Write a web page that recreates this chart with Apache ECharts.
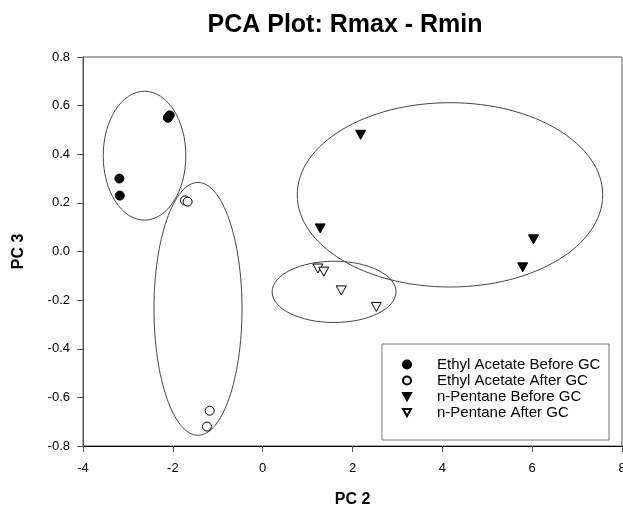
<!DOCTYPE html>
<html><head><meta charset="utf-8">
<script src="https://cdn.jsdelivr.net/npm/echarts@6/dist/echarts.min.js"></script>
<style>html,body{margin:0;padding:0;background:#fff}#c{width:623px;height:510px}</style>
</head><body><div id="c"></div>
<script>
var xTicks = [-4, -2, 0, 2, 4, 6, 8];
var yTicks = [-0.8, -0.6, -0.4, -0.2, 0.0, 0.2, 0.4, 0.6, 0.8];
var seriesNames = ['Ethyl Acetate Before GC', 'Ethyl Acetate After GC', 'n-Pentane Before GC', 'n-Pentane After GC'];
var ethylBefore = [[-2.11, 0.55], [-2.07, 0.56], [-3.19, 0.30], [-3.18, 0.23]];
var ethylAfter = [[-1.73, 0.21], [-1.67, 0.205], [-1.18, -0.655], [-1.24, -0.72]];
var pentaneBefore = [[2.18, 0.48], [1.28, 0.095], [6.03, 0.05], [5.79, -0.065]];
var pentaneAfter = [[1.23, -0.07], [1.36, -0.083], [1.75, -0.16], [2.53, -0.228]];
// ellipses: [centerX, centerY, radiusX, radiusY] in data units
var ellipses = [[-2.63, 0.394, 0.92, 0.265], [-1.44, -0.236, 0.98, 0.52], [4.17, 0.233, 3.40, 0.379], [1.59, -0.166, 1.38, 0.126]];

var font = 'Liberation Sans, Arial, sans-serif';
var downTri = 'path://M0,0L10,0L5,9Z';
var chart = echarts.init(document.getElementById('c'), null, {renderer: 'canvas'});
function sc(name, data, filled, sym) {
  return {
    name: name, type: 'scatter', data: data, symbol: sym === 'triangle' ? downTri : 'circle',
    symbolKeepAspect: true,
    symbolSize: sym === 'triangle' ? 10 : 9,
    itemStyle: {color: filled ? '#000' : '#fff', borderColor: '#000', borderWidth: 1, opacity: 1},
    emphasis: {disabled: true}, z: 5
  };
}
chart.setOption({
  animation: false,
  title: {text: 'PCA Plot: Rmax - Rmin', left: 340, textAlign: 'center', top: 8,
    textStyle: {fontFamily: font, fontSize: 25, fontWeight: 'bold', color: '#000'}},
  grid: {left: 83, right: 1, top: 57, bottom: 64, show: true, borderColor: '#555', borderWidth: 1,
    backgroundColor: 'transparent', outerBoundsMode: 'none', containLabel: false},
  legend: {
    data: seriesNames.map(function (n, i) { return {name: n, icon: i < 2 ? 'circle' : downTri}; }),
    orient: 'vertical', left: 382, top: 344,
    padding: [13, 8, 20, 20], itemGap: 1, itemWidth: 8, itemHeight: 8,
    borderColor: '#777', borderWidth: 1, backgroundColor: '#fff',
    textStyle: {fontFamily: font, fontSize: 15, color: '#000', padding: [0, 0, 0, 21], width: 164, lineHeight: 14},
    selectedMode: false, z: 10
  },
  xAxis: {
    type: 'value', min: -4, max: 8, interval: 2,
    name: 'PC 2', nameLocation: 'middle', nameGap: 46,
    nameTextStyle: {fontFamily: font, fontSize: 16, fontWeight: 'bold', color: '#000'},
    axisLine: {show: true, onZero: false, lineStyle: {color: '#000'}},
    axisTick: {show: true, inside: false, length: 6, lineStyle: {color: '#555'}},
    axisLabel: {fontFamily: font, fontSize: 13, color: '#000', margin: 16, showMaxLabel: true,
      formatter: function (v) { return xTicks.indexOf(v) >= 0 ? String(v) : ''; }},
    splitLine: {show: false}
  },
  yAxis: {
    type: 'value', min: -0.8, max: 0.8, interval: 0.2,
    name: 'PC 3', nameLocation: 'middle', nameGap: 56,
    nameTextStyle: {fontFamily: font, fontSize: 16, fontWeight: 'bold', color: '#000'},
    axisLine: {show: true, onZero: false, lineStyle: {color: '#555'}},
    axisTick: {show: true, inside: false, length: 6, lineStyle: {color: '#555'}},
    axisLabel: {fontFamily: font, fontSize: 13, color: '#000', margin: 13,
      formatter: function (v) { return (Math.abs(v) < 1e-9 ? 0 : v).toFixed(1); }},
    splitLine: {show: false}
  },
  series: [
    {
      type: 'custom', name: 'ellipses', data: ellipses, silent: true, z: 2,
      renderItem: function (params, api) {
        var c = api.coord([api.value(0), api.value(1)]);
        var s = api.size([api.value(2), api.value(3)]);
        return {type: 'ellipse', shape: {cx: c[0], cy: c[1], rx: s[0], ry: s[1]},
          style: {fill: null, stroke: '#444', lineWidth: 1}};
      }
    },
    sc(seriesNames[0], ethylBefore, true, 'circle'),
    sc(seriesNames[1], ethylAfter, false, 'circle'),
    sc(seriesNames[2], pentaneBefore, true, 'triangle'),
    sc(seriesNames[3], pentaneAfter, false, 'triangle')
  ]
});
</script></body></html>
